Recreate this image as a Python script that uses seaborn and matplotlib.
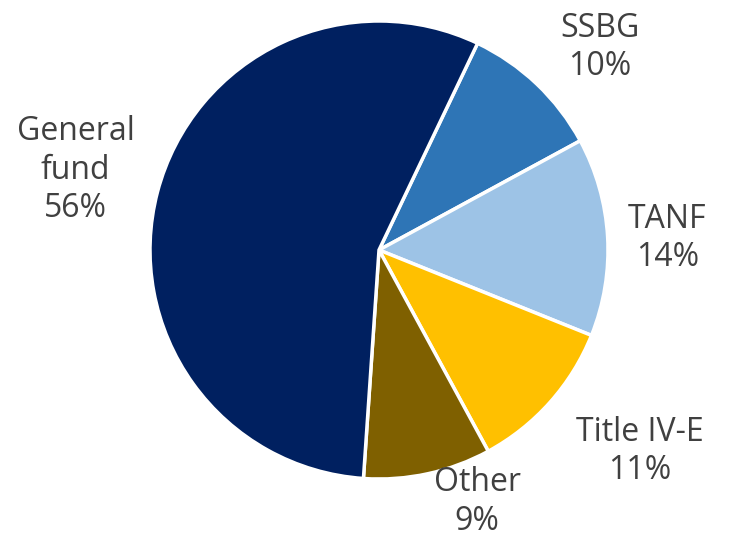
import matplotlib
matplotlib.use("Agg")
import matplotlib.pyplot as plt
import seaborn as sns
import numpy as np

sns.set_theme(style="white")
plt.rcParams['font.family'] = ['Open Sans', 'DejaVu Sans']

categories = ["SSBG", "TANF", "Title IV-E", "Other", "General\nfund"]
values = [10, 14, 11, 9, 56]
colors = ["#2E75B6", "#9DC3E6", "#FFC000", "#7F6000", "#002060"]
label_dist = [1.31, 1.26, 1.44, 1.18, 1.37]
label_shift = [-4, -1, 4, 9, 0]  # degrees offset from wedge middle

fig = plt.figure(figsize=(7.32, 5.37), dpi=100)
ax = fig.add_axes([0, 0, 1, 1])
wedges, _ = ax.pie(values, colors=colors, startangle=64.5, counterclock=False,
                   radius=1.0, wedgeprops=dict(edgecolor="white", linewidth=2.5))
for w, cat, v, d, s in zip(wedges, categories, values, label_dist, label_shift):
    mid = np.deg2rad((w.theta1 + w.theta2) / 2 + s)
    ax.text(d * np.cos(mid), d * np.sin(mid), f"{cat}\n{v}%", ha="center", va="center",
            fontsize=23, color="#404040", linespacing=1.22)
ax.set_xlim(-379 / 229, (732 - 379) / 229)
ax.set_ylim(-(537 - 250) / 229, 250 / 229)
ax.set_aspect("auto")
ax.axis("off")
fig.savefig("out.png", dpi=100)
